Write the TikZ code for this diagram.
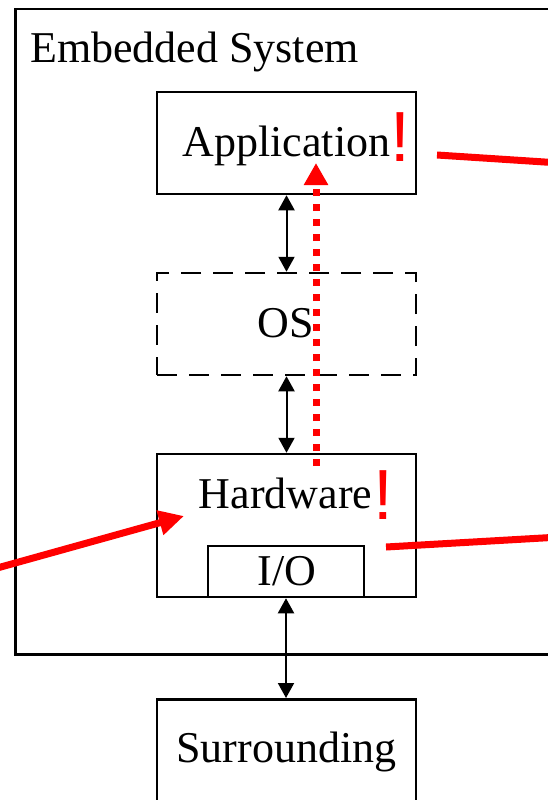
\documentclass[tikz,border=0pt]{standalone}
\usepackage{fontspec}
\setmainfont{Liberation Serif}
\newfontfamily\bangfont{Liberation Sans}
\usetikzlibrary{arrows.meta}
\begin{document}
\begin{tikzpicture}[x=1pt,y=-1pt,
  box/.style={draw, line width=2.5pt, inner sep=0pt, minimum width=259pt},
  lbl/.style={anchor=base, inner sep=0pt, font=\fontsize{44}{50}\selectfont},
  bang/.style={anchor=base, inner sep=0pt, text=red, font=\bangfont\fontsize{71}{80}\selectfont},
  dbl/.style={{Triangle[length=15pt,width=16pt]}-{Triangle[length=15pt,width=16pt]}, line width=2pt},
  redline/.style={red, line width=7pt},
]
\useasboundingbox (0,0) rectangle (548,800);
\begin{scope}
\clip (0,0) rectangle (548,800);
\node (sys) [draw, line width=2.5pt, inner sep=0pt, minimum width=600pt, minimum height=645pt, anchor=north west] at (14,8) {};
\node (tsys) [lbl, anchor=base west] at (30,63) {Embedded System};

\node (app) [box, minimum height=102pt] at (286.5,143) {};
\node (os)  [box, minimum height=102pt, dash pattern=on 20pt off 12pt] at (286.5,324) {};
\node (hw)  [box, minimum height=143pt] at (286.5,525.5) {};
\node (io)  [box, minimum width=156pt, minimum height=51pt] at (286,571.5) {};
\node (sur) [box, minimum height=124pt, anchor=north] at (286.5,698) {};

\node (tapp) [lbl] at (286.5,156) {Application};
\node (tos)  [lbl] at (285.5,337) {OS};
\node (thw)  [lbl] at (285.5,508) {Hardware};
\node (tio)  [lbl] at (287,585) {I/O};
\node (tsur) [lbl] at (286.5,762) {Surrounding};

\draw[dbl] (app.south) -- (os.north);
\draw[dbl] (os.south) -- (hw.north);
\draw[dbl] (io.south) -- (io.south |- sur.north);

\node (bang1) [bang] at (400,161) {!};
\node (bang2) [bang] at (383,519) {!};

\coordinate (rs) at (316,466);
\coordinate (re) at (316,163);
\draw[red, line width=7pt, dash pattern=on 7pt off 8pt, -{Triangle[length=22pt,width=23pt]}] (rs) -- (re);

\coordinate (a1) at (437,155);
\coordinate (a2) at (560,163);
\draw[redline] (a1) -- (a2);

\coordinate (l1) at (-10,570);
\coordinate (l2) at (184,516);
\draw[redline, -{Triangle[length=25pt,width=24pt]}] (l1) -- (l2);

\coordinate (h1) at (386,547);
\coordinate (h2) at (560,537);
\draw[redline] (h1) -- (h2);
\end{scope}
\end{tikzpicture}
\end{document}
